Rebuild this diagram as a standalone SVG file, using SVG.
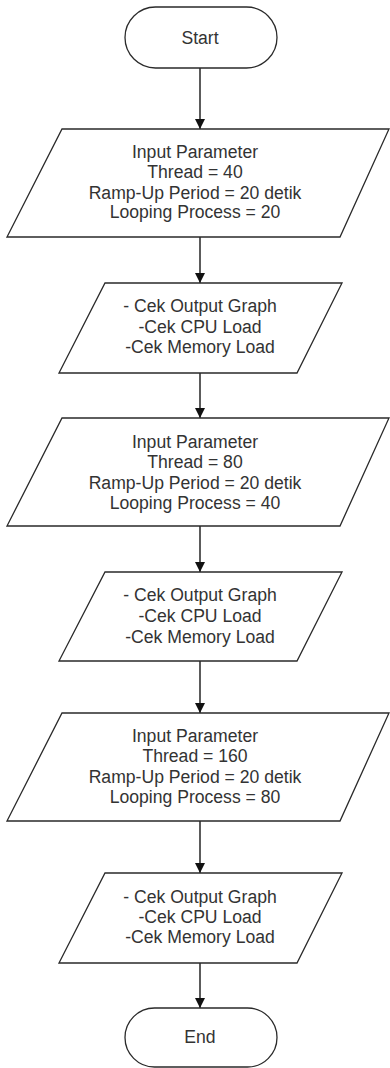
<svg xmlns="http://www.w3.org/2000/svg" width="390" height="1068" viewBox="0 0 390 1068">
<style>
.shape{fill:#fff;stroke:#2a2a2a;stroke-width:1.3}
.lbl{font-family:"Liberation Sans",Arial,sans-serif;font-size:17.6px;fill:#333;text-anchor:middle}
.conn{stroke:#333;stroke-width:1.6;fill:none;marker-end:url(#arr)}
</style>
<defs>
<marker id="arr" markerUnits="userSpaceOnUse" markerWidth="11" markerHeight="11" refX="10" refY="5" orient="auto">
<path d="M0,0 L10,5 L0,10 z" fill="#111"/>
</marker>
</defs>
<rect width="390" height="1068" fill="#fff"/>
<g id="connectors">
<line class="conn" x1="200" y1="68" x2="200" y2="129"/>
<line class="conn" x1="200" y1="237" x2="200" y2="283"/>
<line class="conn" x1="200" y1="373" x2="200" y2="418"/>
<line class="conn" x1="200" y1="526" x2="200" y2="572"/>
<line class="conn" x1="200" y1="661" x2="200" y2="713"/>
<line class="conn" x1="200" y1="821" x2="200" y2="873"/>
<line class="conn" x1="200" y1="963" x2="200" y2="1008"/>
</g>
<g id="start">
<rect class="shape" x="125" y="7" width="152" height="61" rx="30.5"/>
<text class="lbl" x="200" y="44">Start</text>
</g>
<g id="input1">
<polygon class="shape" points="62,129 389,129 340,237 7,237"/>
<text class="lbl" x="195" y="158">Input Parameter</text>
<text class="lbl" x="195" y="178">Thread = 40</text>
<text class="lbl" x="195" y="199">Ramp-Up Period = 20 detik</text>
<text class="lbl" x="195" y="218">Looping Process = 20</text>
</g>
<g id="check1">
<polygon class="shape" points="105,283 342,283 297,373 59,373"/>
<text class="lbl" x="200" y="312">- Cek Output Graph</text>
<text class="lbl" x="200" y="333">-Cek CPU Load</text>
<text class="lbl" x="200" y="353">-Cek Memory Load</text>
</g>
<g id="input2">
<polygon class="shape" points="62,418 389,418 340,526 7,526"/>
<text class="lbl" x="195" y="448">Input Parameter</text>
<text class="lbl" x="195" y="468">Thread = 80</text>
<text class="lbl" x="195" y="489">Ramp-Up Period = 20 detik</text>
<text class="lbl" x="195" y="509">Looping Process = 40</text>
</g>
<g id="check2">
<polygon class="shape" points="105,572 342,572 297,661 59,661"/>
<text class="lbl" x="200" y="601">- Cek Output Graph</text>
<text class="lbl" x="200" y="622">-Cek CPU Load</text>
<text class="lbl" x="200" y="643">-Cek Memory Load</text>
</g>
<g id="input3">
<polygon class="shape" points="62,713 389,713 340,821 7,821"/>
<text class="lbl" x="195" y="742">Input Parameter</text>
<text class="lbl" x="195" y="762">Thread = 160</text>
<text class="lbl" x="195" y="783">Ramp-Up Period = 20 detik</text>
<text class="lbl" x="195" y="803">Looping Process = 80</text>
</g>
<g id="check3">
<polygon class="shape" points="105,873 342,873 297,963 59,963"/>
<text class="lbl" x="200" y="903">- Cek Output Graph</text>
<text class="lbl" x="200" y="923">-Cek CPU Load</text>
<text class="lbl" x="200" y="943">-Cek Memory Load</text>
</g>
<g id="end">
<rect class="shape" x="125" y="1008" width="152" height="59" rx="29.5"/>
<text class="lbl" x="200" y="1043">End</text>
</g>
</svg>
